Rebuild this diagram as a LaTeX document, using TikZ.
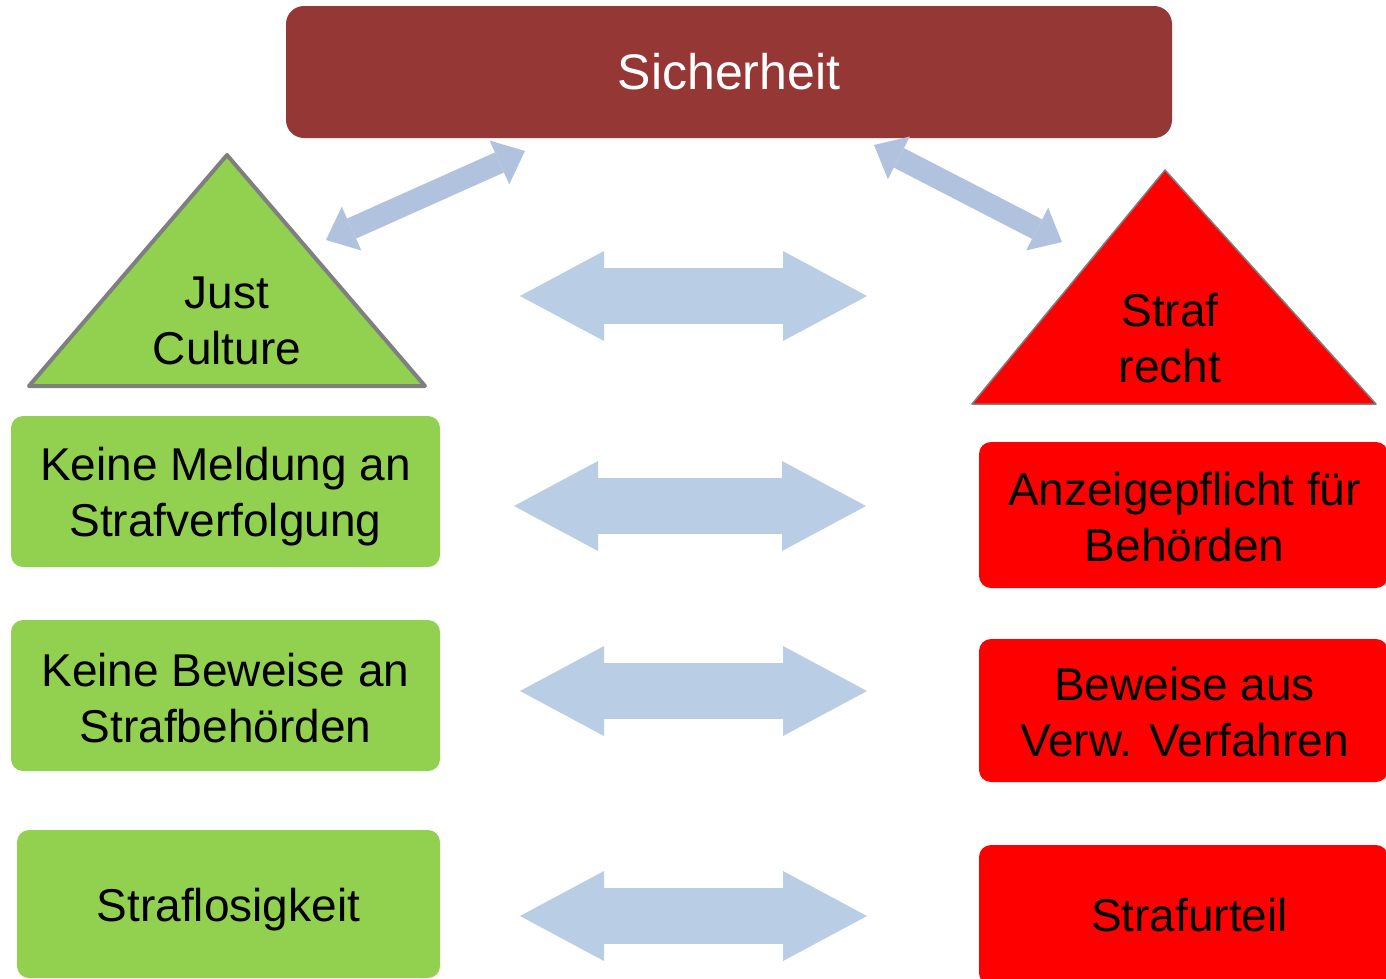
\documentclass[tikz,border=0pt]{standalone}
\usepackage{fontspec}
\setmainfont{Liberation Sans}
\usetikzlibrary{arrows.meta,calc}
\definecolor{sicher}{HTML}{953735}
\definecolor{jcgreen}{HTML}{92D050}
\definecolor{srred}{HTML}{FF0000}
\definecolor{harrowc}{HTML}{B9CDE5}
\definecolor{darrowc}{HTML}{B0C2DE}
\definecolor{tborder}{HTML}{7F7F7F}
\begin{document}
\begin{tikzpicture}[x=1pt,y=-1pt,
  txt/.style={font=\fontsize{46}{56}\selectfont, align=center, text=black, inner sep=0pt},
  gbox/.style={fill=jcgreen, rounded corners=12pt, inner sep=0pt},
  rbox/.style={fill=srred, rounded corners=12pt, inner sep=0pt},
  harrow/.style={harrowc, line width=56pt, {Triangle[length=84pt,width=90pt,line width=0pt]}-{Triangle[length=84pt,width=90pt,line width=0pt]}},
  darrow/.style={darrowc, line width=22pt, {Triangle[length=28pt,width=48pt,line width=0pt]}-{Triangle[length=28pt,width=48pt,line width=0pt]}}]
\useasboundingbox (0,0) rectangle (1386,978);

% top box
\node[fill=sicher, rounded corners=18pt, minimum width=886pt, minimum height=132pt, inner sep=0pt,
      text=white, font=\fontsize{50}{60}\selectfont] (sicherheit) at (729,72) {\raisebox{2pt}{Sicherheit}};

% triangles
\draw[fill=jcgreen, draw=tborder, line width=4pt, line join=round] (227,155) -- (425,386) -- (29,386) -- cycle;
\node[txt] (just) at (227,321) {Just\\Culture};
\draw[fill=srred, draw=tborder, line width=1.5pt, line join=round] (1165,170) -- (1376,404) -- (972,404) -- cycle;
\node[txt] (straf) at (1170,338) {Straf\\recht};

% green boxes
\node[gbox, minimum width=429pt, minimum height=151pt] (g1) at (225.5,491.5) {};
\node[txt] (g1t) at ($(g1.center)+(0,5)$) {Keine Meldung an\\Strafverfolgung};
\node[gbox, minimum width=429pt, minimum height=151pt] (g2) at (225.5,695.5) {};
\node[txt] (g2t) at ($(g2.center)+(0,2.5)$) {Keine Beweise an\\Strafbehörden};
\node[gbox, minimum width=423pt, minimum height=148pt] (g3) at (228.5,904) {};
\node[txt] (g3t) at ($(g3.center)+(0,6)$) {Straflosigkeit};

% red boxes
\node[rbox, minimum width=409pt, minimum height=146pt] (r1) at (1183.5,515) {};
\node[txt] (r1t) at ($(r1.center)+(1,2)$) {Anzeigepflicht für\\Behörden};
\node[rbox, minimum width=409pt, minimum height=143pt] (r2) at (1183.5,710.5) {};
\node[txt] (r2t) at ($(r2.center)+(1,2)$) {Beweise aus\\Verw. Verfahren};
\node[rbox, minimum width=409pt, minimum height=140pt] (r3) at (1183.5,915) {};
\node[txt] (r3t) at ($(r3.center)+(6,0)$) {Strafurteil};

% arrow end points
\coordinate (h0l) at (520,296);  \coordinate (h0r) at (867,296);
\coordinate (h1l) at (514,506);  \coordinate (h1r) at (866,506);
\coordinate (h2l) at (520,691);  \coordinate (h2r) at (867,691);
\coordinate (h3l) at (520,916);  \coordinate (h3r) at (867,916);
\coordinate (dla) at (326,240);  \coordinate (dlb) at (525,151);
\coordinate (dra) at (874,145);  \coordinate (drb) at (1062,242);

\draw[harrow] (h0l) -- (h0r);
\draw[harrow] (h1l) -- (h1r);
\draw[harrow] (h2l) -- (h2r);
\draw[harrow] (h3l) -- (h3r);
\draw[darrow] (dla) -- (dlb);
\draw[darrow] (dra) -- (drb);
\end{tikzpicture}
\end{document}
